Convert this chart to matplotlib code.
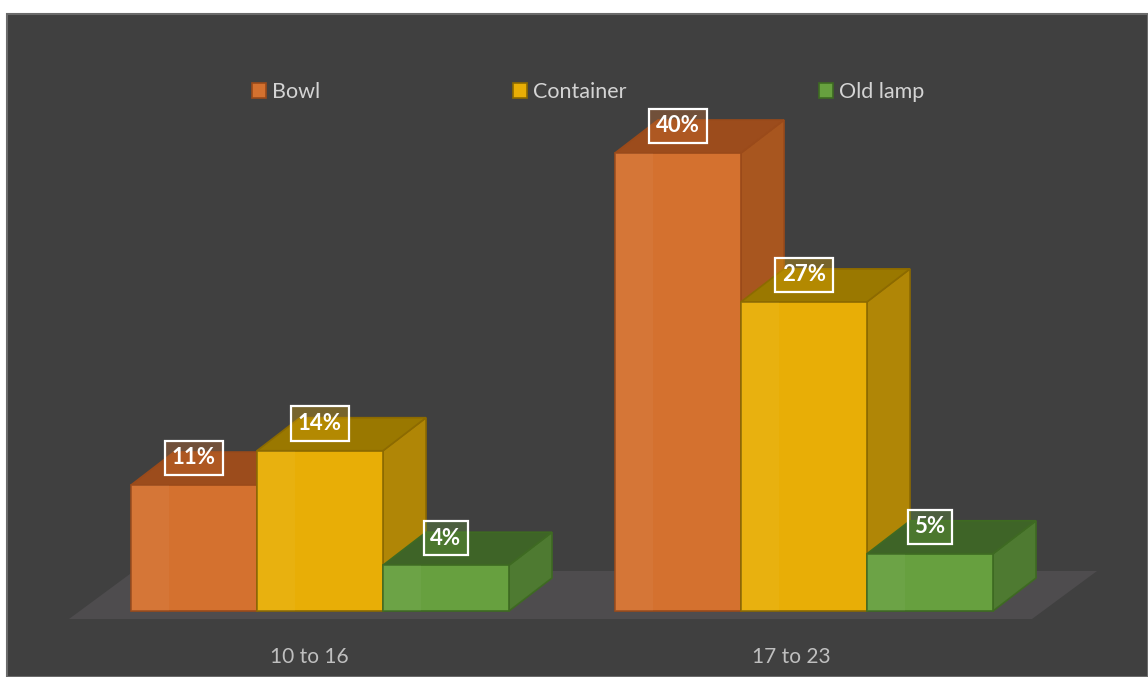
import matplotlib.pyplot as plt
from matplotlib.patches import Polygon, Rectangle

# age groups on the category axis
groups = ["10 to 16", "17 to 23"]
series = ["Bowl", "Container", "Old lamp"]

# share of each item per age group (%)
bowl = [11, 40]
container = [14, 27]
old_lamp = [4, 5]

# face colours: front, top, side, edge
styles = {
    "Bowl":      ("#D4712F", "#9C4C1C", "#A8561F", "#9A4A1A"),
    "Container": ("#E8AE06", "#9A7800", "#B08606", "#8C6A00"),
    "Old lamp":  ("#67A03F", "#3E6427", "#4E7A31", "#3E6A22"),
}

BG = "#404040"
W, H = 1148, 677

# pixel layout of the plot area
base_px = 611          # baseline (0 %) measured from top
px_per_pct = 11.45
center_px = 320        # first group centre
step_px = 484          # distance between groups
bar_w = 126 / step_px
dx = 43 / step_px      # depth offset of the 3d faces
dy = 33 / px_per_pct

fig = plt.figure(figsize=(W / 100, H / 100), dpi=100)
fig.patch.set_facecolor("white")
fig.patches.append(Rectangle((7 / W, 0), 1 - 7 / W, 1 - 14 / H, transform=fig.transFigure,
                             facecolor=BG, edgecolor="#6B6B6B", linewidth=1.5, zorder=-10))

ax = fig.add_axes([0, 0, 1, 1])
ax.set_facecolor("none")
ax.set_xlim(-center_px / step_px, (W - center_px) / step_px)
ax.set_ylim(-(H - base_px) / px_per_pct, base_px / px_per_pct)
ax.axis("off")

# floor
fl_front = -8 / px_per_pct
fl_back = 40 / px_per_pct
fl_x0 = (69 - center_px) / step_px
fl_x1 = (1032 - center_px) / step_px
fl_shift = 65 / step_px
ax.add_patch(Polygon([(fl_x0, fl_front), (fl_x1, fl_front), (fl_x1 + fl_shift, fl_back),
                      (fl_x0 + fl_shift, fl_back)], closed=True, facecolor="#4E4C4E",
                     edgecolor="none", zorder=1))

data = {"Bowl": bowl, "Container": container, "Old lamp": old_lamp}
z = 2
for i in range(len(groups)):
    for j, name in enumerate(series):
        front, top, side, edge = styles[name]
        h = data[name][i]
        x0 = i - 1.5 * bar_w + j * bar_w
        x1 = x0 + bar_w
        ax.add_patch(Polygon([(x1, 0), (x1 + dx, dy), (x1 + dx, h + dy), (x1, h)], closed=True,
                             facecolor=side, edgecolor=edge, linewidth=1.2, zorder=z))
        ax.add_patch(Polygon([(x0, h), (x0 + dx, h + dy), (x1 + dx, h + dy), (x1, h)], closed=True,
                             facecolor=top, edgecolor=edge, linewidth=1.2, zorder=z))
        ax.bar(x0, h, width=bar_w, align="edge", color=front, edgecolor=edge,
               linewidth=1.2, zorder=z + 1)
        # soft highlight on the left part of the front face
        ax.add_patch(Rectangle((x0, 0), bar_w * 0.3, h, facecolor="white", alpha=0.04,
                               edgecolor="none", zorder=z + 1))
        ax.text(x0 + bar_w / 2, h + 0.82 * dy, f"{h}%", ha="center", va="center",
                fontsize=16, fontweight="bold", color="white", family="Lato", zorder=z + 2,
                bbox=dict(boxstyle="square,pad=0.3", facecolor=front + "55",
                          edgecolor="white", linewidth=1.6))
        z += 3

# category labels centred on floor slots
slot = (fl_x1 - fl_x0) / len(groups)
for i, g in enumerate(groups):
    ax.text(fl_x0 + (i + 0.5) * slot, -(657 - base_px) / px_per_pct, g, ha="center",
            va="center", fontsize=15, color="#BFBFBF", family="Lato")

handles = [Rectangle((0, 0), 1, 1, facecolor=styles[s][0], edgecolor=styles[s][3], linewidth=1.2)
           for s in series]
leg = fig.legend(handles, series, loc="center", bbox_to_anchor=(588.5 / W, 1 - 92 / H), ncol=3,
                 frameon=False, handlelength=0.65, handleheight=0.7,
                 handletextpad=0.28, columnspacing=8.95, prop={"family": "Lato", "size": 15.5})
for t in leg.get_texts():
    t.set_color("#D4D4D4")

fig.savefig("out.png", dpi=100, facecolor=fig.get_facecolor())
